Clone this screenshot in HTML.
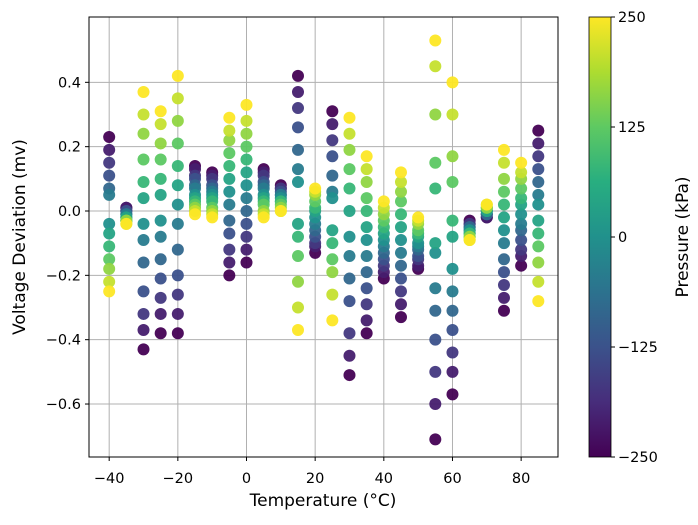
<!DOCTYPE html>
<html><head><meta charset="utf-8"><style>
body{margin:0;background:#fff;font-family:"Liberation Sans","DejaVu Sans",sans-serif}
svg text{font-family:"DejaVu Sans","Liberation Sans",sans-serif;fill:#000}
</style></head><body>
<svg id="chart" width="698" height="520" xmlns="http://www.w3.org/2000/svg">
<defs><linearGradient id="vir" x1="0" y1="1" x2="0" y2="0">
<stop offset="0" stop-color="#440154"/><stop offset="0.125" stop-color="#472d7b"/><stop offset="0.25" stop-color="#3b528b"/><stop offset="0.375" stop-color="#2c728e"/><stop offset="0.5" stop-color="#21918c"/><stop offset="0.625" stop-color="#28ae80"/><stop offset="0.75" stop-color="#5ec962"/><stop offset="0.875" stop-color="#addc30"/><stop offset="1" stop-color="#fde725"/></linearGradient></defs>
<g id="grid"></g>
<g id="pts"></g>
<rect x="89" y="17" width="469" height="440" fill="none" stroke="#000" stroke-width="1"/>
<g id="xt"></g>
<g id="yt"></g>
<text x="323" y="506" font-size="17" text-anchor="middle">Temperature (°C)</text>
<text transform="translate(25,237) rotate(-90)" font-size="17" text-anchor="middle">Voltage Deviation (mv)</text>
<rect x="589" y="17" width="22" height="440" fill="url(#vir)" stroke="#000" stroke-width="0.8"/>
<g id="ct"></g>
<text transform="translate(688,237) rotate(-90)" font-size="17" text-anchor="middle">Pressure (kPa)</text>
</svg>
<script>
const temps=[-40,-35,-30,-25,-20,-15,-10,-5,0,5,10,15,20,25,30,35,40,45,50,55,60,65,70,75,80,85];
const pressures=[-250,-208,-167,-125,-83,-42,0,42,83,125,167,208,250];
const voltages=[
[0.23,0.19,0.15,0.11,0.07,0.05,-0.04,-0.07,-0.11,-0.15,-0.18,-0.22,-0.25],
[0.01,0.01,0.0,0.0,-0.01,-0.01,-0.02,-0.02,-0.03,-0.03,-0.03,-0.04,-0.04],
[-0.43,-0.37,-0.32,-0.25,-0.16,-0.09,-0.04,0.04,0.09,0.16,0.24,0.30,0.37],
[-0.38,-0.32,-0.27,-0.21,-0.15,-0.08,-0.03,0.05,0.10,0.16,0.21,0.27,0.31],
[-0.38,-0.32,-0.26,-0.20,-0.12,-0.04,0.02,0.08,0.14,0.21,0.28,0.35,0.42],
[0.14,0.13,0.11,0.10,0.08,0.07,0.05,0.04,0.03,0.02,0.01,0.0,-0.01],
[0.12,0.11,0.10,0.08,0.07,0.06,0.05,0.04,0.03,0.01,0.0,-0.01,-0.02],
[-0.20,-0.16,-0.12,-0.07,-0.03,0.02,0.06,0.10,0.14,0.18,0.22,0.25,0.29],
[-0.16,-0.12,-0.08,-0.04,0.0,0.04,0.08,0.12,0.16,0.20,0.24,0.28,0.33],
[0.13,0.12,0.11,0.09,0.08,0.07,0.05,0.04,0.03,0.02,0.0,-0.01,-0.02],
[0.08,0.07,0.07,0.06,0.05,0.05,0.04,0.03,0.03,0.02,0.01,0.0,0.0],
[0.42,0.37,0.32,0.26,0.19,0.13,0.09,-0.04,-0.08,-0.14,-0.22,-0.30,-0.37],
[-0.13,-0.11,-0.10,-0.08,-0.06,-0.04,-0.02,0.0,0.01,0.03,0.05,0.06,0.07],
[0.31,0.27,0.22,0.17,0.11,0.06,0.04,-0.06,-0.10,-0.15,-0.19,-0.26,-0.34],
[-0.51,-0.45,-0.38,-0.28,-0.21,-0.14,-0.08,0.0,0.07,0.13,0.19,0.24,0.29],
[-0.38,-0.34,-0.29,-0.24,-0.19,-0.14,-0.09,-0.05,0.0,0.04,0.09,0.13,0.17],
[-0.21,-0.19,-0.17,-0.15,-0.13,-0.11,-0.09,-0.07,-0.05,-0.03,-0.01,0.01,0.03],
[-0.33,-0.29,-0.25,-0.21,-0.17,-0.13,-0.09,-0.05,-0.01,0.03,0.06,0.09,0.12],
[-0.18,-0.17,-0.15,-0.14,-0.12,-0.11,-0.10,-0.08,-0.07,-0.06,-0.04,-0.03,-0.02],
[-0.71,-0.60,-0.50,-0.40,-0.31,-0.24,-0.13,-0.10,0.07,0.15,0.30,0.45,0.53],
[-0.57,-0.50,-0.44,-0.37,-0.31,-0.25,-0.18,-0.08,-0.03,0.09,0.17,0.30,0.40],
[-0.03,-0.04,-0.04,-0.05,-0.05,-0.06,-0.06,-0.07,-0.07,-0.08,-0.08,-0.09,-0.09],
[-0.02,-0.02,-0.01,-0.01,-0.01,0.0,0.0,0.0,0.01,0.01,0.01,0.02,0.02],
[-0.31,-0.27,-0.23,-0.19,-0.15,-0.10,-0.06,-0.02,0.02,0.06,0.10,0.15,0.19],
[-0.17,-0.14,-0.12,-0.09,-0.06,-0.04,-0.01,0.02,0.04,0.07,0.10,0.12,0.15],
[0.25,0.21,0.17,0.13,0.09,0.05,0.02,-0.03,-0.07,-0.11,-0.16,-0.22,-0.28]];
const xTicks=[-40,-20,0,20,40,60,80];
const yTicks=[0.4,0.2,0.0,-0.2,-0.4,-0.6];
const cTicks=[250,125,0,-125,-250];
const NS="http://www.w3.org/2000/svg";
const X=t=>246.5+t*3.433;
const Y=v=>211-v*321.7;
const C=p=>237-p*0.88;
const vir=[[68,1,84],[71,44,122],[59,81,139],[44,113,142],[33,144,141],[39,173,129],[92,200,99],[170,220,50],[253,231,37]];
function col(p){let f=(p+250)/500*8;let i=Math.min(7,Math.floor(f)),r=f-i;const a=vir[i],b=vir[i+1];return `rgb(${a.map((c,k)=>Math.round(c+(b[k]-c)*r)).join(',')})`;}
function mk(tag,at,parent){const e=document.createElementNS(NS,tag);for(const k in at)e.setAttribute(k,at[k]);parent.appendChild(e);return e;}
const grid=document.getElementById('grid'),xt=document.getElementById('xt'),yt=document.getElementById('yt'),ct=document.getElementById('ct'),pts=document.getElementById('pts');
xTicks.forEach(t=>{const x=X(t);
const g=mk('line',{x1:x,x2:x,y1:17,y2:457,stroke:'#b0b0b0','stroke-width':1},grid);


const l=mk('line',{x1:x,x2:x,y1:457,y2:461,stroke:'#000'},xt);


const s=mk('text',{x:x,y:483,'font-size':14.5,'text-anchor':'middle'},xt);s.textContent=t<0?'\u2212'+(-t):t;

});
yTicks.forEach(v=>{const y=Y(v);
const g=mk('line',{x1:89,x2:558,y1:y,y2:y,stroke:'#b0b0b0','stroke-width':1},grid);


const l=mk('line',{x1:85,x2:89,y1:y,y2:y,stroke:'#000'},yt);


const s=mk('text',{x:81,y:y+5,'font-size':14.5,'text-anchor':'end'},yt);s.textContent=(v<0?'\u2212':'')+Math.abs(v).toFixed(1);

});
cTicks.forEach(p=>{const y=C(p);
const l=mk('line',{x1:611,x2:615,y1:y,y2:y,stroke:'#000'},ct);


const s=mk('text',{x:618,y:y+5,'font-size':14.5},ct);s.textContent=(p<0?'\u2212':'')+Math.abs(p);

});
temps.forEach((t,i)=>{voltages[i].forEach((v,j)=>{
const c=mk('circle',{cx:X(t),cy:Y(voltages[i][j]),r:6,fill:col(pressures[j]),'fill-opacity':0.95},pts);

});});
</script>
</body></html>
